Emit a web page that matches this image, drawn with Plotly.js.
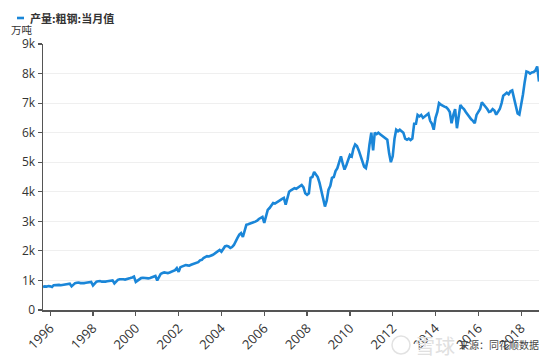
<!DOCTYPE html>
<html><head><meta charset="utf-8">
<script src="https://cdn.plot.ly/plotly-3.0.1.min.js"></script>
<style>html,body{margin:0;padding:0;background:#fff;}#chart{width:554px;height:360px;}</style>
</head><body><div id="chart"></div>
<script>
const seriesName = '产量:粗钢:当月值';
const unitLabel = '万吨';
const sourceLabel = '来源：同花顺数据';
const watermark = '雪球';

// monthly crude steel output (万吨), first series starts Sep 1995
const firstMonth1995 = 9;
const y1995 = [780, 800, 790, 810];
const y1996 = [800, 780, 840, 850, 860, 850, 840, 850, 860, 870, 880, 890];
const y1997 = [800, 860, 910, 920, 930, 910, 900, 910, 920, 930, 940, 950];
const y1998 = [830, 900, 960, 970, 980, 960, 950, 960, 970, 980, 990, 1000];
const y1999 = [900, 960, 1020, 1040, 1050, 1040, 1030, 1040, 1050, 1080, 1100, 1130];
const y2000 = [950, 1000, 1060, 1080, 1090, 1080, 1060, 1070, 1080, 1100, 1120, 1150];
const y2001 = [1000, 1130, 1220, 1250, 1270, 1260, 1250, 1270, 1290, 1310, 1350, 1420];
const y2002 = [1290, 1450, 1480, 1500, 1520, 1510, 1500, 1530, 1550, 1570, 1590, 1620];
const y2003 = [1680, 1700, 1760, 1800, 1820, 1810, 1830, 1860, 1900, 1950, 2000, 2030];
const y2004 = [1970, 2050, 2150, 2170, 2150, 2100, 2130, 2200, 2300, 2440, 2550, 2600];
const y2005 = [2470, 2700, 2880, 2900, 2930, 2950, 2970, 2990, 3020, 3080, 3120, 3150];
const y2006 = [2950, 3150, 3390, 3450, 3550, 3620, 3600, 3650, 3700, 3720, 3760, 3790];
const y2007 = [3560, 3850, 4000, 4050, 4100, 4120, 4100, 4150, 4200, 4230, 4150, 3950];
const y2008 = [3900, 3950, 4470, 4500, 4670, 4600, 4500, 4300, 4000, 3700, 3500, 3700];
const y2009 = [4070, 4200, 4470, 4500, 4700, 4800, 5000, 5200, 4950, 4750, 4900, 5100];
const y2010 = [5250, 5200, 5450, 5600, 5550, 5400, 5200, 5000, 4850, 4800, 5100, 5600];
const y2011 = [6000, 5400, 6000, 5950, 6000, 5950, 5900, 5850, 5800, 5760, 5300, 5000];
const y2012 = [5200, 5800, 6100, 6050, 6100, 6050, 6000, 5800, 5760, 5800, 5750, 5800];
const y2013 = [6300, 6300, 6600, 6550, 6600, 6500, 6550, 6600, 6650, 6400, 6300, 6100];
const y2014 = [6500, 6700, 7000, 6950, 6900, 6880, 6860, 6800, 6700, 6320, 6600, 6800];
const y2015 = [6150, 6500, 6940, 6850, 6800, 6700, 6610, 6550, 6450, 6400, 6320, 6600];
const y2016 = [6700, 6800, 7030, 6950, 6900, 6800, 6700, 6720, 6800, 6750, 6610, 6700];
const y2017 = [6800, 7000, 7250, 7300, 7350, 7300, 7400, 7430, 7170, 6900, 6650, 6610];
const y2018 = [6900, 7300, 7700, 8070, 8050, 8000, 8040, 8050, 8100, 8240, 7730];

const yearly = [
  [1995, y1995], [1996, y1996], [1997, y1997], [1998, y1998], [1999, y1999],
  [2000, y2000], [2001, y2001], [2002, y2002], [2003, y2003], [2004, y2004],
  [2005, y2005], [2006, y2006], [2007, y2007], [2008, y2008], [2009, y2009],
  [2010, y2010], [2011, y2011], [2012, y2012], [2013, y2013], [2014, y2014],
  [2015, y2015], [2016, y2016], [2017, y2017], [2018, y2018]
];

const dates = [], values = [];
yearly.forEach(([yr, arr]) => {
  const m0 = yr === 1995 ? firstMonth1995 : 1;
  arr.forEach((v, i) => {
    const m = m0 + i;
    dates.push(yr + '-' + String(m).padStart(2, '0') + '-01');
    values.push(v);
  });
});

const lineColor = '#1a86d8';
const tickFont = {family: 'Open Sans, DejaVu Sans, sans-serif', size: 12, color: '#333'};
const xTickFont = {family: 'Open Sans, DejaVu Sans, sans-serif', size: 13, color: '#333'};
const cjk = 'Noto Sans CJK SC, Noto Sans, sans-serif';

const trace = {
  x: dates, y: values, type: 'scatter', mode: 'lines', name: seriesName,
  line: {color: lineColor, width: 2.6}, hoverinfo: 'x+y'
};

const W = 554, H = 360, L = 43, R = 15, T = 44, B = 50;
const pw = W - L - R, ph = H - T - B;
const px = v => (v - L) / pw;
const py = v => 1 - (v - T) / ph;

const layout = {
  width: W, height: H,
  margin: {l: L, r: R, t: T, b: B, pad: 0},
  paper_bgcolor: '#fff', plot_bgcolor: '#fff',
  showlegend: false,
  xaxis: {
    type: 'date', tick0: '1996-01-01', dtick: 'M24', tickformat: '%Y',
    tickangle: -45, tickfont: xTickFont,
    showgrid: false, zeroline: false,
    showline: true, linecolor: '#555', linewidth: 1.5,
    ticks: 'outside', ticklen: 4, tickcolor: '#555', tickwidth: 1.2
  },
  yaxis: {
    range: [0, 9000], dtick: 1000, tickformat: '~s', tickfont: tickFont,
    showgrid: true, gridcolor: '#efefef', gridwidth: 1, zeroline: false,
    showline: true, linecolor: '#555', linewidth: 1.5,
    ticks: 'outside', ticklen: 4, tickcolor: '#555', tickwidth: 1.2
  },
  shapes: [
    {type: 'line', xref: 'paper', yref: 'paper', x0: px(17), x1: px(24), y0: py(18), y1: py(18),
     line: {color: lineColor, width: 2.6}},
    {type: 'circle', xref: 'paper', yref: 'paper', x0: px(392), x1: px(410), y0: py(354), y1: py(336),
     line: {color: '#e2e2e2', width: 1.5}}
  ],
  annotations: [
    {xref: 'paper', yref: 'paper', x: px(29), y: py(18), xanchor: 'left', yanchor: 'middle',
     text: '<b>' + seriesName + '</b>', showarrow: false, borderpad: 0,
     font: {family: cjk, size: 11, color: '#333'}},
    {xref: 'paper', yref: 'paper', x: px(22), y: py(29.5), xanchor: 'center', yanchor: 'middle',
     text: unitLabel, showarrow: false, borderpad: 0, font: {family: cjk, size: 10.5, color: '#333'}},
    {xref: 'paper', yref: 'paper', x: px(413), y: py(345), xanchor: 'left', yanchor: 'middle',
     text: watermark, showarrow: false, font: {family: cjk, size: 20, color: '#e0e0e0'}},
    {xref: 'paper', yref: 'paper', x: px(541), y: py(344), xanchor: 'right', yanchor: 'middle',
     text: sourceLabel, showarrow: false, font: {family: cjk, size: 10, color: '#444'}}
  ]
};

Plotly.newPlot('chart', [trace], layout, {displayModeBar: false, staticPlot: true});
</script></body></html>
